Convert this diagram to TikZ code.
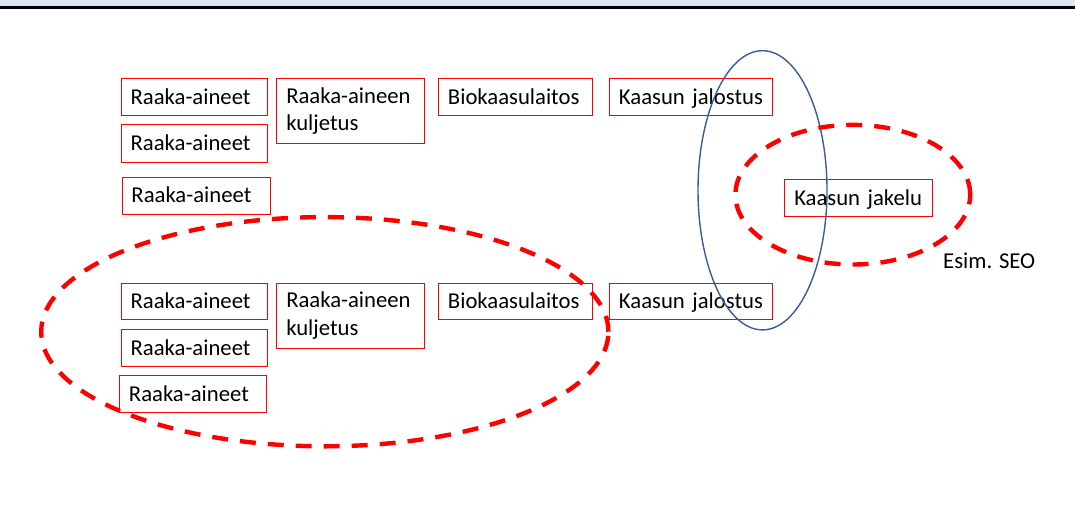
\documentclass[tikz,border=0pt]{standalone}
\usepackage{fontspec}
\setmainfont{Carlito}
\begin{document}
\begin{tikzpicture}[x=1pt,y=-1pt,
  box/.style={draw=red, line width=0.9pt, anchor=north west, inner xsep=9.5pt, inner ysep=0pt,
    align=left, font=\fontsize{22.7}{27.7}\selectfont},
  one/.style={text height=14.6pt, text depth=0pt},
  reddash/.style={draw=red, line width=4.4pt, dash pattern=on 16pt off 12pt},
  blueoval/.style={draw=ovalblue, line width=1.4pt},
  lbl/.style={font=\fontsize{22.7}{27.7}\selectfont, anchor=base west, inner sep=0pt}
]
\definecolor{ovalblue}{HTML}{3A5A9E}
\definecolor{band}{HTML}{DCE6F2}
\useasboundingbox (0,0) rectangle (1075,514);
\fill[band] (0,0) rectangle (1075,6.4);
\fill[black] (0,6.3) rectangle (1075,8.7);

% top row
\node[box, one, text width=127.6pt, minimum height=36.6pt] (r1) at (120.7,78.4) {Raaka-aineet};
\node[box, one, text width=127.6pt, minimum height=37.6pt] (r2) at (120.7,124.4) {Raaka-aineet};
\node[box, one, text width=129.4pt, minimum height=37.2pt] (r3) at (121.5,176.6) {Raaka-aineet};
\node[box, text width=129pt, minimum height=64.4pt] (k1) at (276.3,78.4) {Raaka-aineen\\kuljetus};
\node[box, one, text width=134.7pt, minimum height=36.6pt] (b1) at (438,78.4) {Biokaasulaitos};
\node[box, one, text width=144.3pt, minimum height=36.6pt] (j1) at (609,78.4) {Kaasun jalostus};

% bottom row
\node[box, one, text width=127.6pt, minimum height=36.6pt] (r4) at (120.7,282.8) {Raaka-aineet};
\node[box, one, text width=127.6pt, minimum height=37.3pt] (r5) at (120.7,328.8) {Raaka-aineet};
\node[box, one, text width=128.3pt, minimum height=37pt] (r6) at (119,375.4) {Raaka-aineet};
\node[box, text width=129pt, minimum height=65pt] (k2) at (276.3,282.8) {Raaka-aineen\\kuljetus};
\node[box, one, text width=134.7pt, minimum height=36.6pt] (b2) at (438,282.8) {Biokaasulaitos};
\node[box, one, text width=144.3pt, minimum height=36.6pt] (j2) at (609,282.8) {Kaasun jalostus};

% distribution
\node[box, one, text width=128.4pt, minimum height=37pt] (jk) at (784.3,179) {Kaasun jakelu};
\node[lbl] (seo) at (943,268) {Esim. SEO};

% ovals
\draw[reddash] (324.8,331.7) ellipse [x radius=283.6pt, y radius=114.6pt];
\draw[blueoval] (762.5,190.3) ellipse [x radius=64.5pt, y radius=139.6pt];
\draw[reddash] (852.8,194.7) ellipse [x radius=117.4pt, y radius=69.8pt];
\end{tikzpicture}
\end{document}
